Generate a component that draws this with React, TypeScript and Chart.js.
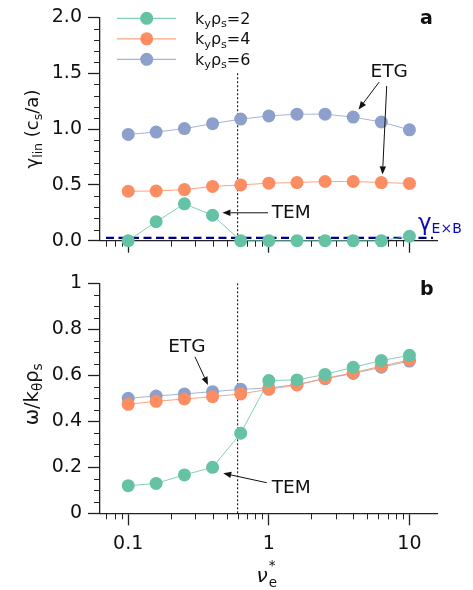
import React, { useEffect, useRef } from "react";
import { Chart, registerables } from "chart.js";

Chart.register(...registerables);

// ---------- data ----------
const nuValues = [0.1, 0.158, 0.251, 0.398, 0.631, 1, 1.585, 2.512, 3.981, 6.31, 10];
const gammaKy2 = [0.0, 0.17, 0.33, 0.228, 0.0, 0.0, 0.0, 0.0, 0.0, 0.0, 0.04];
const gammaKy4 = [0.443, 0.445, 0.458, 0.486, 0.5, 0.515, 0.521, 0.53, 0.53, 0.521, 0.513];
const gammaKy6 = [0.952, 0.973, 1.004, 1.048, 1.089, 1.118, 1.133, 1.133, 1.107, 1.063, 0.993];
const omegaKy2 = [0.12, 0.13, 0.167, 0.2, 0.348, 0.577, 0.58, 0.604, 0.635, 0.664, 0.687];
const omegaKy4 = [0.474, 0.487, 0.497, 0.507, 0.519, 0.539, 0.558, 0.587, 0.611, 0.64, 0.667];
const omegaKy6 = [0.5, 0.51, 0.519, 0.529, 0.539, 0.545, 0.56, 0.585, 0.608, 0.635, 0.662];
const kyLabels = ["2", "4", "6"];
const gammaExB = 0.025;
const nuThreshold = 0.6;

const xRange = [0.063, 15.7];
const xTickValues = [0.1, 1, 10];
const xTickLabels = ["0.1", "1", "10"];
const xMinorTicks = [0.07, 0.08, 0.09, 0.2, 0.3, 0.4, 0.5, 0.6, 0.7, 0.8, 0.9, 2, 3, 4, 5, 6, 7, 8, 9];
const gammaTicks = [0, 0.5, 1.0, 1.5, 2.0];
const gammaTickLabels = ["0.0", "0.5", "1.0", "1.5", "2.0"];
const gammaMinorTicks = [0.1, 0.2, 0.3, 0.4, 0.6, 0.7, 0.8, 0.9, 1.1, 1.2, 1.3, 1.4, 1.6, 1.7, 1.8, 1.9];
const omegaTicks = [0, 0.2, 0.4, 0.6, 0.8, 1];
const omegaTickLabels = ["0", "0.2", "0.4", "0.6", "0.8", "1"];
const omegaMinorTicks = [0.05, 0.1, 0.15, 0.25, 0.3, 0.35, 0.45, 0.5, 0.55, 0.65, 0.7, 0.75, 0.85, 0.9, 0.95];

// annotations in data coordinates: text anchor, arrows [from, to]
const topAnnotations = [
  { text: "ETG", at: [7.17, 1.51], align: "center", arrows: [[[6.08, 1.42], [4.35, 1.176]], [[6.89, 1.386], [6.43, 0.594]]] },
  { text: "TEM", at: [1.05, 0.25], align: "left", arrows: [[[0.987, 0.25], [0.468, 0.25]]] },
];
const bottomAnnotations = [
  { text: "ETG", at: [0.262, 0.723], align: "center", arrows: [[[0.2985, 0.68], [0.369, 0.558]]] },
  { text: "TEM", at: [1.05, 0.111], align: "left", arrows: [[[0.966, 0.133], [0.474, 0.174]]] },
];

// ---------- styles ----------
const seriesColors = ["#66c2a5", "#fc8d62", "#8da0cb"];
const seriesLineColors = ["rgba(102,194,165,0.8)", "rgba(252,141,98,0.8)", "rgba(141,160,203,0.8)"];
const FAMILY = '"DejaVu Sans", sans-serif';
const INK = "#111";
const fnt = (size: number, style = "") => `${style} ${size}px ${FAMILY}`.trim();

type Part = { t: string; size: number; dy?: number; style?: string; dx?: number };

function partsWidth(ctx: CanvasRenderingContext2D, parts: Part[]) {
  let w = 0;
  for (const p of parts) {
    ctx.font = fnt(p.size, p.style);
    w += ctx.measureText(p.t).width + (p.dx || 0);
  }
  return w;
}

function drawParts(ctx: CanvasRenderingContext2D, parts: Part[], x: number, y: number, align: "left" | "center") {
  const w = partsWidth(ctx, parts);
  let cx = align === "center" ? x - w / 2 : x;
  ctx.textBaseline = "alphabetic";
  ctx.textAlign = "left";
  for (const p of parts) {
    ctx.font = fnt(p.size, p.style);
    ctx.fillText(p.t, cx + (p.dx || 0), y + (p.dy || 0));
    cx += ctx.measureText(p.t).width + (p.dx || 0);
  }
}

function drawArrow(ctx: CanvasRenderingContext2D, x1: number, y1: number, x2: number, y2: number) {
  const a = Math.atan2(y2 - y1, x2 - x1);
  const L = 8, H = 3.2;
  const bx = x2 - L * Math.cos(a), by = y2 - L * Math.sin(a);
  ctx.beginPath();
  ctx.moveTo(x1, y1);
  ctx.lineTo(bx, by);
  ctx.stroke();
  ctx.beginPath();
  ctx.moveTo(x2, y2);
  ctx.lineTo(bx + H * Math.sin(a), by - H * Math.cos(a));
  ctx.lineTo(bx - H * Math.sin(a), by + H * Math.cos(a));
  ctx.closePath();
  ctx.fill();
}

function makePlugin(panel: "a" | "b") {
  const isTop = panel === "a";
  return {
    id: "custom" + panel,
    beforeDatasetsDraw(chart: any) {
      const { ctx, chartArea, scales } = chart;
      const xs = scales.x, ys = scales.y;
      ctx.save();
      // minor ticks
      ctx.strokeStyle = "#222";
      ctx.lineWidth = 1;
      ctx.beginPath();
      for (const v of xMinorTicks) {
        const px = Math.round(xs.getPixelForValue(v)) + 0.5;
        ctx.moveTo(px, chartArea.bottom);
        ctx.lineTo(px, chartArea.bottom + 6);
      }
      for (const v of isTop ? gammaMinorTicks : omegaMinorTicks) {
        const py = Math.round(ys.getPixelForValue(v)) + 0.5;
        ctx.moveTo(chartArea.left, py);
        ctx.lineTo(chartArea.left - 6, py);
      }
      ctx.stroke();
      // vertical threshold
      const vx = xs.getPixelForValue(nuThreshold);
      ctx.setLineDash([2, 2]);
      ctx.lineWidth = 1;
      ctx.strokeStyle = "#000";
      ctx.beginPath();
      ctx.moveTo(vx, ys.getPixelForValue(isTop ? 1.5 : 1.0));
      ctx.lineTo(vx, chartArea.bottom);
      ctx.stroke();
      // ExB dashed line
      if (isTop) {
        const py = ys.getPixelForValue(gammaExB);
        ctx.setLineDash([8, 4.5]);
        ctx.lineWidth = 2.2;
        ctx.strokeStyle = "#00008b";
        ctx.beginPath();
        ctx.moveTo(chartArea.left + 6, py);
        ctx.lineTo(chartArea.right - 4, py);
        ctx.stroke();
      }
      ctx.restore();
    },
    afterDraw(chart: any) {
      const { ctx, chartArea, scales } = chart;
      const xs = scales.x, ys = scales.y;
      ctx.save();
      ctx.fillStyle = INK;
      ctx.strokeStyle = INK;
      ctx.lineWidth = 1;
      // panel letter
      ctx.font = fnt(19, "bold");
      ctx.textAlign = "left";
      ctx.textBaseline = "alphabetic";
      ctx.fillText(panel, 420, isTop ? 24 : 295 - 260);
      // annotations
      const anns = isTop ? topAnnotations : bottomAnnotations;
      for (const an of anns) {
        ctx.font = fnt(18.5);
        ctx.textAlign = an.align as CanvasTextAlign;
        ctx.textBaseline = "middle";
        ctx.fillText(an.text, xs.getPixelForValue(an.at[0]), ys.getPixelForValue(an.at[1]));
        for (const ar of an.arrows) {
          drawArrow(
            ctx,
            xs.getPixelForValue(ar[0][0]), ys.getPixelForValue(ar[0][1]),
            xs.getPixelForValue(ar[1][0]), ys.getPixelForValue(ar[1][1])
          );
        }
      }
      // y-axis title
      const cy = (chartArea.top + chartArea.bottom) / 2;
      ctx.save();
      ctx.translate(38, isTop ? cy : cy - 4);
      ctx.rotate(-Math.PI / 2);
      const yParts: Part[] = isTop
        ? [
            { t: "γ", size: 18 },
            { t: "lin", size: 12.6, dy: 4 },
            { t: " (c", size: 18 },
            { t: "s", size: 12.6, dy: 4 },
            { t: "/a)", size: 18 },
          ]
        : [
            { t: "ω/k", size: 19.5 },
            { t: "θ", size: 13.6, dy: 4 },
            { t: "ρ", size: 19.5 },
            { t: "s", size: 13.6, dy: 4 },
          ];
      drawParts(ctx, yParts, 0, 0, "center");
      ctx.restore();
      if (isTop) {
        // legend
        for (let i = 0; i < 3; i++) {
          const ly = 18.3 + i * 20.5;
          ctx.strokeStyle = seriesLineColors[i];
          ctx.lineWidth = 1.2;
          ctx.beginPath();
          ctx.moveTo(117, ly);
          ctx.lineTo(176, ly);
          ctx.stroke();
          ctx.fillStyle = seriesColors[i];
          ctx.beginPath();
          ctx.arc(146.7, ly, 6.5, 0, Math.PI * 2);
          ctx.fill();
          ctx.fillStyle = INK;
          drawParts(
            ctx,
            [
              { t: "k", size: 16 },
              { t: "y", size: 11.2, dy: 3.5 },
              { t: "ρ", size: 16 },
              { t: "s", size: 11.2, dy: 3.5 },
              { t: "=" + kyLabels[i], size: 16 },
            ],
            195,
            ly + 5.5,
            "left"
          );
        }
        // ExB label
        ctx.fillStyle = "#0a0ab4";
        drawParts(
          ctx,
          [
            { t: "γ", size: 23 },
            { t: "E×B", size: 14, dy: 3 },
          ],
          418,
          ys.getPixelForValue(gammaExB) - 8,
          "left"
        );
      } else {
        // x-axis title
        ctx.fillStyle = INK;
        const bx = (chartArea.left + chartArea.right) / 2 - 12;
        const by = 581.7 - 260;
        ctx.font = fnt(20, "italic");
        ctx.textAlign = "left";
        ctx.textBaseline = "alphabetic";
        ctx.fillText("ν", bx, by);
        const nw = ctx.measureText("ν").width;
        ctx.font = fnt(13.5);
        ctx.fillText("e", bx + nw + 1, by + 5);
        ctx.fillText("*", bx + nw + 1, by - 12);
      }
      ctx.restore();
    },
  };
}

function makeConfig(panel: "a" | "b", canvasH: number, areaTop: number, areaBottom: number): any {
  const isTop = panel === "a";
  const series = isTop ? [gammaKy2, gammaKy4, gammaKy6] : [omegaKy2, omegaKy4, omegaKy6];
  const datasets = series.map((arr, i) => ({
    label: "kyρs=" + kyLabels[i],
    data: nuValues.map((x, j) => ({ x, y: arr[j] })),
    borderColor: seriesLineColors[i],
    backgroundColor: seriesColors[i],
    pointBackgroundColor: seriesColors[i],
    pointBorderWidth: 0,
    pointRadius: 6.5,
    pointHoverRadius: 6.5,
    borderWidth: 1,
    tension: 0,
    fill: false,
    clip: false,
    order: i + 1,
  }));
  const yTicks = isTop ? gammaTicks : omegaTicks;
  const yLabels = isTop ? gammaTickLabels : omegaTickLabels;
  const tickFont = { family: FAMILY, size: 19 };
  return {
    type: "line",
    data: { datasets },
    options: {
      animation: false,
      responsive: false,
      devicePixelRatio: 1,
      events: [],
      layout: { padding: { left: 0, right: 473 - 437, top: areaTop, bottom: 0 } },
      plugins: { legend: { display: false }, tooltip: { enabled: false } },
      scales: {
        x: {
          type: "logarithmic",
          position: "bottom",
          min: xRange[0],
          max: xRange[1],
          afterBuildTicks: (s: any) => {
            s.ticks = xTickValues.map((v) => ({ value: v, major: true }));
          },
          afterFit: (s: any) => {
            s.height = canvasH - areaBottom;
          },
          ticks: {
            display: !isTop,
            autoSkip: false,
            maxRotation: 0,
            padding: 7,
            color: INK,
            font: tickFont,
            callback: (_v: any, i: number) => xTickLabels[i],
          },
          grid: { display: true, drawOnChartArea: false, drawTicks: true, tickLength: 12, tickWidth: 1.3, tickColor: "#222" },
          border: { display: true, color: "#222", width: 1.3 },
        },
        y: {
          type: "linear",
          position: "left",
          min: yTicks[0],
          max: yTicks[yTicks.length - 1],
          afterBuildTicks: (s: any) => {
            s.ticks = yTicks.map((v) => ({ value: v }));
          },
          afterFit: (s: any) => {
            s.width = 100;
          },
          ticks: {
            autoSkip: false,
            padding: 6,
            color: INK,
            font: tickFont,
            callback: (_v: any, i: number) => yLabels[i],
          },
          grid: { display: true, drawOnChartArea: false, drawTicks: true, tickLength: 12, tickWidth: 1.3, tickColor: "#222" },
          border: { display: true, color: "#222", width: 1.3 },
        },
      },
    },
    plugins: [makePlugin(panel)],
  };
}

const TOP_H = 260;
const BOTTOM_H = 330;

export default function App() {
  const topRef = useRef<HTMLCanvasElement>(null);
  const bottomRef = useRef<HTMLCanvasElement>(null);
  useEffect(() => {
    const c1 = new Chart(topRef.current as HTMLCanvasElement, makeConfig("a", TOP_H, 11.7, 240.7));
    const c2 = new Chart(bottomRef.current as HTMLCanvasElement, makeConfig("b", BOTTOM_H, 283.3 - TOP_H, 513.3 - TOP_H));
    return () => {
      c1.destroy();
      c2.destroy();
    };
  }, []);
  return (
    <div style={{ position: "absolute", left: 0, top: 0, width: 473, height: 590, background: "#fff" }}>
      <canvas ref={topRef} width={473} height={TOP_H} style={{ position: "absolute", left: 0, top: 0, width: 473, height: TOP_H }} />
      <canvas ref={bottomRef} width={473} height={BOTTOM_H} style={{ position: "absolute", left: 0, top: TOP_H, width: 473, height: BOTTOM_H }} />
    </div>
  );
}
